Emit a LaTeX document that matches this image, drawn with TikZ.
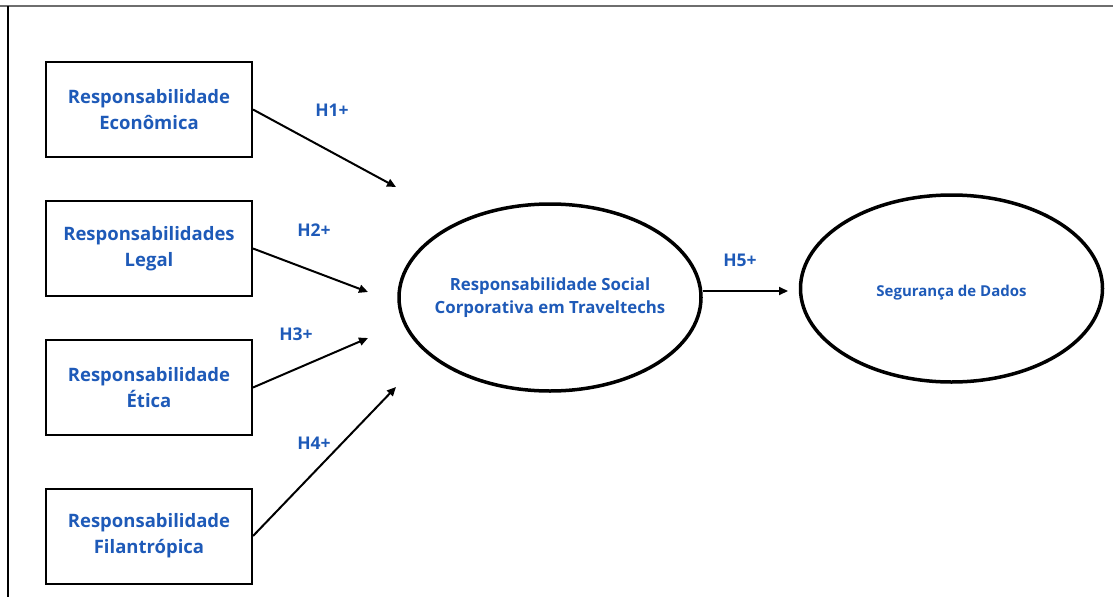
\documentclass[tikz,border=0pt]{standalone}
\usepackage{fontspec}
\setmainfont{Open Sans}
\usetikzlibrary{shapes.geometric, arrows.meta, positioning}
\definecolor{hypblue}{RGB}{30, 90, 184}
\definecolor{framegray}{RGB}{110, 110, 110}

\begin{document}
\begin{tikzpicture}[x=1pt, y=-1pt,
  dim/.style={draw, line width=2pt, minimum width=206pt, minimum height=95pt, inner sep=0pt, align=center, text=hypblue, font=\fontsize{18.5}{26}\selectfont\bfseries},
  construct/.style={draw, ellipse, line width=3.5pt, minimum width=302pt, minimum height=187pt, inner ysep=0pt, inner xsep=-25pt, align=center, text=hypblue},
  hyp/.style={text=hypblue, font=\fontsize{17.5}{20}\selectfont\bfseries},
  link/.style={line width=2pt, -{Triangle[length=9pt, width=8pt]}},
]
  \useasboundingbox (0,0) rectangle (1113,597);

  % Frame
  \draw[framegray, line width=1.5pt] (0,6) -- (1113,6);
  \draw[line width=1.2pt] (8,6) -- (8,597);

  % Dimensions
  \node[dim] (eco) at (149,109.5) {Responsabilidade\\Econômica};
  \node[dim] (leg) at (149,248.5) {Responsabilidades\\Legal};
  \node[dim] (eti) at (149,387.5) {Responsabilidade\\Ética};
  \node[dim] (fil) at (149,536) {Responsabilidade\\Filantrópica};

  % Constructs
  \node[construct, font=\fontsize{16.8}{23}\selectfont\bfseries] (rsc) at (550,297.5) {Responsabilidade Social\\Corporativa em Traveltechs};
  \node[construct, font=\fontsize{15}{18}\selectfont\bfseries] (seg) at (951.5,288.5) {\raisebox{-8pt}[0pt][0pt]{Segurança de Dados}};

  % Arrow ends
  \coordinate (e1) at (396,187);
  \coordinate (e2) at (368,292);
  \coordinate (e3) at (368,338);
  \coordinate (e4) at (396,387);
  \coordinate (e5) at (788,291);

  \draw[link] (eco.east) -- (e1);
  \draw[link] (leg.east) -- (e2);
  \draw[link] (eti.east) -- (e3);
  \draw[link] (fil.east) -- (e4);
  \draw[link] (rsc.east |- e5) -- (e5);

  % Hypotheses
  \node[hyp] (h1) at (332,110) {H1+};
  \node[hyp] (h2) at (314,230) {H2+};
  \node[hyp] (h3) at (296,334) {H3+};
  \node[hyp] (h4) at (314,443) {H4+};
  \node[hyp] (h5) at (740,260) {H5+};
\end{tikzpicture}
\end{document}
